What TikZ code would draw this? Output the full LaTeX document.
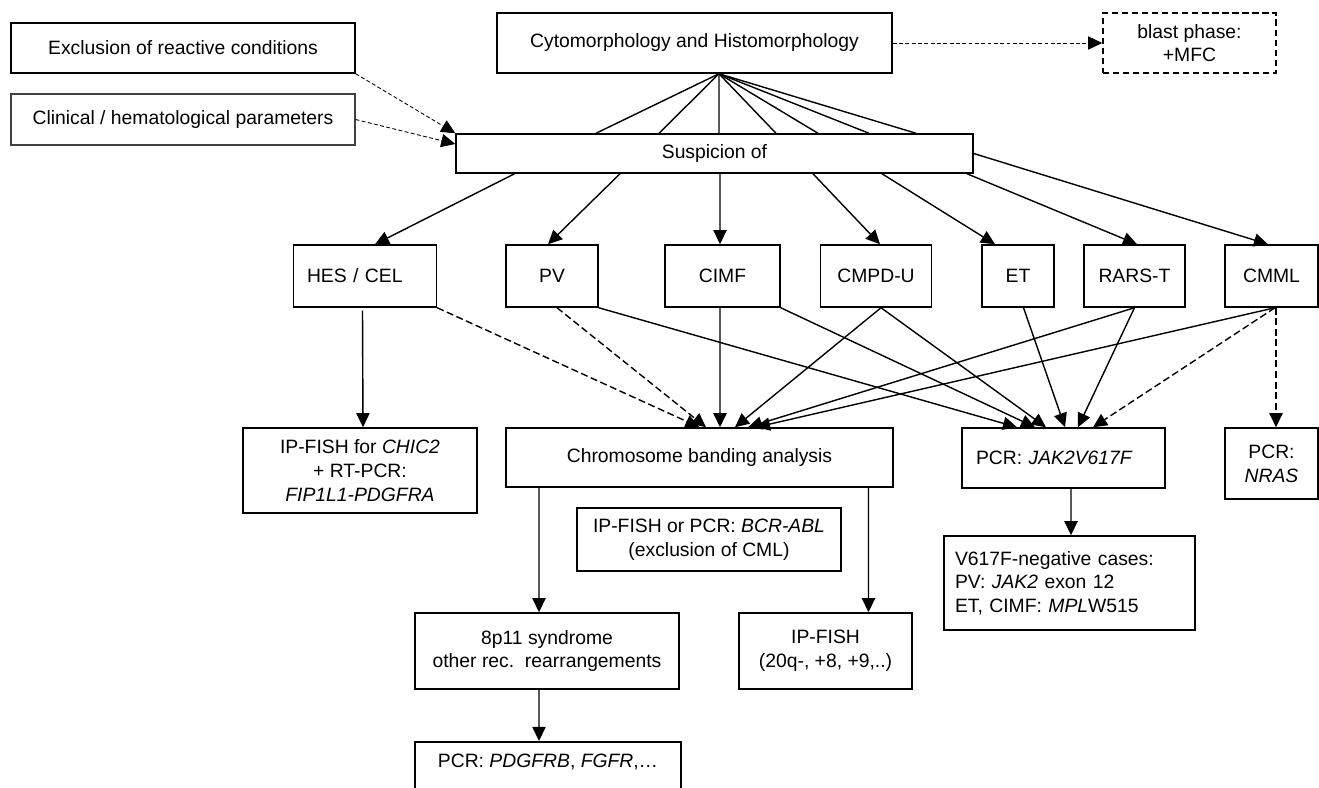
\documentclass[tikz,border=0pt]{standalone}
\usepackage{fontspec}
\setmainfont{Liberation Sans}
\usetikzlibrary{arrows.meta}

\begin{document}
\begin{tikzpicture}[x=0.02cm,y=-0.02cm,>={Triangle[length=8pt,width=7.5pt]},
  font=\fontsize{11}{13.5}\selectfont,
  box/.style={draw,line width=0.85pt,inner sep=2pt,align=center,minimum height=1.24cm},
  link/.style={->,line width=0.8pt},
  fan/.style={line width=0.8pt},
  hint/.style={->,line width=0.5pt,dash pattern=on 2.2pt off 1.4pt},
  maybe/.style={->,line width=0.8pt,dash pattern=on 4pt off 2pt}]
  \useasboundingbox (0,0) rectangle (1319,788);
  \node[box,minimum width=6.88cm,minimum height=1cm] (excl) at (183,48) {Exclusion of reactive conditions};
  \node[box,draw=black!75,line width=0.65pt,minimum width=6.88cm,minimum height=1.02cm] (clin) at (183,119.5) {Clinical / hematological parameters};
  \node[box,minimum width=7.9cm,minimum height=1.2cm] (cyto) at (694.5,43) {Cytomorphology and Histomorphology};
  \node[box,dash pattern=on 3.5pt off 2.2pt,line width=0.9pt,minimum width=3.46cm,minimum height=1.2cm] (blast) at (1189.5,43) {blast phase:\\+MFC};
  \node[box,minimum width=10.34cm,minimum height=0.78cm] (susp) at (714.5,153.5) {Suspicion of};
  \node[box,minimum width=2.86cm,text width=2.32cm,align=left,inner xsep=0.27cm] (hes) at (365,276) {HES / CEL};
  \node[box,minimum width=1.84cm] (pv) at (552,276) {PV};
  \node[box,minimum width=2.3cm] (cimf) at (722.5,276) {CIMF};
  \node[box,minimum width=2.23cm] (cmpdu) at (876,276) {CMPD-U};
  \node[box,minimum width=1.44cm] (et) at (1018,276) {ET};
  \node[box,minimum width=2.02cm] (rarst) at (1134.5,276) {RARS-T};
  \node[box,minimum width=1.86cm] (cmml) at (1271.5,276) {CMML};
  \node[box,minimum width=4.68cm,minimum height=1.7cm] (chic) at (360,470.5) {IP-FISH for \textit{CHIC2}\\+ RT-PCR:\\\textit{FIP1L1-PDGFRA}};
  \node[box,minimum width=7.74cm,minimum height=1.18cm] (chrom) at (699.5,457.5) {Chromosome banding analysis};
  \node[box,minimum width=5.29cm,minimum height=1.26cm] (bcr) at (709,539.5) {IP-FISH or PCR: \textit{BCR-ABL}\\(exclusion of CML)};
  \node[box,minimum width=4.06cm,minimum height=1.2cm,text width=3.5cm,align=left,inner xsep=0.28cm] (jak) at (1063.5,458) {PCR: \textit{JAK2V617F}};
  \node[box,minimum width=1.86cm,minimum height=1.42cm] (nras) at (1271.5,463.5) {PCR:\\\textit{NRAS}};
  \node[box,minimum width=5.02cm,minimum height=1.88cm,text width=4.58cm,align=left,inner xsep=0.22cm] (v617) at (1069.5,583) {V617F-negative cases:\\PV: \textit{JAK2} exon 12\\ET, CIMF: \textit{MPL}W515};
  \node[box,minimum width=5.28cm,minimum height=1.52cm] (p811) at (547,651) {8p11 syndrome\\other rec.\ \ rearrangements};
  \node[box,minimum width=3.46cm,minimum height=1.52cm] (ipfish) at (825.5,651) {IP-FISH\\(20q-, +8, +9,..)};
  \node[box,anchor=north,minimum width=5.32cm,inner ysep=7pt] (pcrb) at (548,741) {PCR: \textit{PDGFRB}, \textit{FGFR},\ldots\\ \mbox{}};

  \draw[hint] (excl.south east) -- (susp.north west);
  \draw[hint] (clin.east) -- ([yshift=0.19cm]susp.west);
  \draw[hint] (cyto.east) -- (blast.west);

  \coordinate (apex) at ([xshift=0.49cm]cyto.south);
  \draw[fan] (apex) -- ([xshift=-2.37cm]susp.north);
  \draw[fan] (apex) -- ([xshift=-1.11cm]susp.north);
  \draw[fan] (apex) -- ([xshift=0.09cm]susp.north);
  \draw[fan] (apex) -- ([xshift=1.23cm]susp.north);
  \draw[fan] (apex) -- ([xshift=2.07cm]susp.north);
  \draw[fan] (apex) -- ([xshift=3.09cm]susp.north);
  \draw[fan] (apex) -- ([xshift=4.03cm]susp.north);

  \draw[link] ([xshift=-4cm]susp.south) -- ([xshift=0.2cm]hes.north);
  \draw[link] ([xshift=-1.89cm]susp.south) -- ([xshift=-0.08cm]pv.north);
  \draw[link] ([xshift=0.11cm]susp.south) -- ([xshift=-0.05cm]cimf.north);
  \draw[link] ([xshift=1.97cm]susp.south) -- ([xshift=0.08cm]cmpdu.north);
  \draw[link] ([xshift=3.35cm]susp.south) -- ([xshift=-0.46cm]et.north);
  \draw[link] ([xshift=5.05cm]susp.south) -- ([xshift=0.05cm]rarst.north);
  \draw[link] (susp.east) -- ([xshift=-0.07cm]cmml.north);

  \draw[link] ([xshift=-0.05cm,yshift=-0.06cm]hes.south) -- ([xshift=0.06cm]chic.north);
  \draw[maybe] (hes.south east) -- (chrom.north);
  \draw[maybe] ([xshift=0.1cm]pv.south) -- ([xshift=0.13cm]chrom.north);
  \draw[link] (pv.south east) -- ([xshift=-0.93cm]jak.north);
  \draw[link] ([xshift=-0.05cm]cimf.south) -- ([xshift=0.41cm]chrom.north);
  \draw[link] (cimf.south east) -- ([xshift=-0.57cm]jak.north);
  \draw[link] ([xshift=0.1cm]cmpdu.south) -- ([xshift=0.71cm]chrom.north);
  \draw[link] ([xshift=0.1cm]cmpdu.south) -- ([xshift=-0.35cm]jak.north);
  \draw[link] ([xshift=0.11cm]et.south) -- ([xshift=0.03cm]jak.north);
  \draw[link] (rarst.south) -- ([xshift=0.97cm]chrom.north);
  \draw[link] (rarst.south) -- ([xshift=0.29cm]jak.north);
  \draw[link] ([xshift=0.07cm]cmml.south) -- ([xshift=1.13cm]chrom.north);
  \draw[maybe] ([xshift=0.07cm]cmml.south) -- ([xshift=0.59cm]jak.north);
  \draw[maybe] ([xshift=0.09cm]cmml.south) -- ([xshift=0.09cm]nras.north);

  \draw[link] ([xshift=-3.21cm]chrom.south) -- ([xshift=-0.16cm]p811.north);
  \draw[link] ([xshift=-0.16cm]p811.south) -- ([xshift=-0.18cm]pcrb.north);
  \draw[link] ([xshift=3.38cm]chrom.south) -- ([xshift=0.86cm]ipfish.north);
  \draw[link] ([xshift=0.15cm]jak.south) -- ([xshift=0.03cm]v617.north);
\end{tikzpicture}
\end{document}
